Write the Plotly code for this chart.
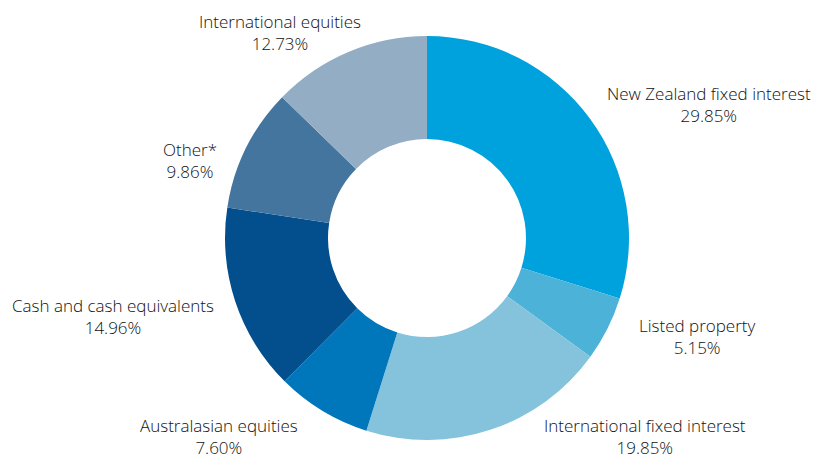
import plotly.graph_objects as go

categories = ["New Zealand fixed interest", "Listed property", "International fixed interest",
              "Australasian equities", "Cash and cash equivalents", "Other*", "International equities"]
values = [29.85, 5.15, 19.85, 7.60, 14.96, 9.86, 12.73]
colors = ["#00A2DD", "#4CB2D7", "#85C2DC", "#0076BB", "#034E8C", "#44759F", "#93ADC4"]

# label centre positions in window pixels (layout only)
label_px = [(709, 104), (697, 336), (645, 436), (219, 436), (113, 316), (190, 160), (280, 33)]

OFF = 8  # page body margin
W, H = 819 - OFF, 459 - OFF
cx, cy, r = 427 - OFF, 238 - OFF, 202

fig = go.Figure(go.Pie(
    labels=categories, values=values, sort=False, direction="clockwise", rotation=0,
    hole=0.49, marker=dict(colors=colors, line=dict(width=0)),
    textinfo="none", hoverinfo="label+percent",
    domain=dict(x=[(cx - r) / W, (cx + r) / W], y=[(H - cy - r) / H, (H - cy + r) / H]),
))

for lab, v, (px, py) in zip(categories, values, label_px):
    fig.add_annotation(x=(px - OFF) / W, y=1 - (py - OFF) / H, xref="paper", yref="paper",
                       text=f"{lab}<br>{v:.2f}%", showarrow=False,
                       font=dict(family="Open Sans", size=17, color="#111111", weight=300),
                       xanchor="center", yanchor="middle", align="center")

fig.update_layout(width=W, height=H, margin=dict(l=0, r=0, t=0, b=0),
                  showlegend=False, paper_bgcolor="white", plot_bgcolor="white")
fig.write_html("out.html")
